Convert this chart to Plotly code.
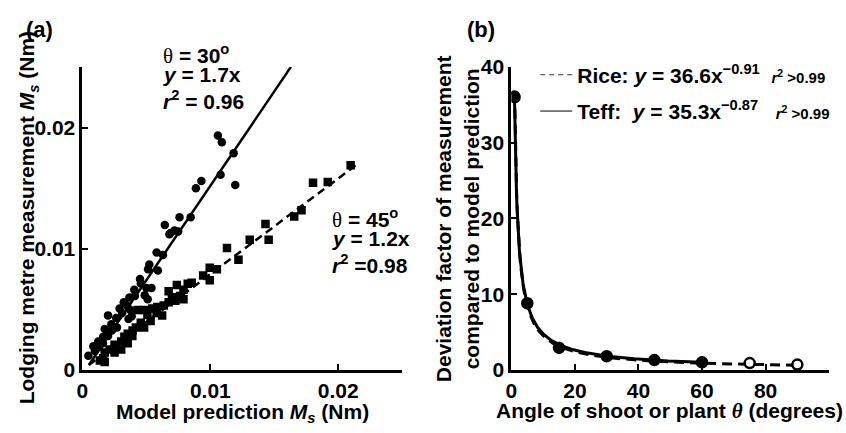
import numpy as np
import plotly.graph_objects as go

W, H = 846, 433
FONT = "Liberation Sans, Arial, sans-serif"

# ---------------- Panel (a) data ----------------
c30_x = [0.01059, 0.0109, 0.01182, 0.0108, 0.01195, 0.0093, 0.00887, 0.00846, 0.00759, 0.00644,
         0.00687, 0.00749, 0.0058, 0.0063, 0.00523, 0.00513, 0.0059, 0.00456, 0.0050, 0.0054,
         0.00405, 0.00487, 0.0051, 0.00367, 0.00323, 0.0029, 0.00374, 0.00385, 0.002, 0.00264,
         0.00226, 0.00174, 0.0023, 0.00162, 0.00123, 0.00085, 0.00046, 0.00097, 0.0035, 0.0031,
         0.0036, 0.0041, 0.0045, 0.0068, 0.0072, 0.0027, 0.0013, 0.0016, 0.0020]
c30_y = [0.01935, 0.01878, 0.01787, 0.0161, 0.01525, 0.01558, 0.01499, 0.0126, 0.0126, 0.01195,
         0.0113, 0.01143, 0.00969, 0.00948, 0.0087, 0.0083, 0.0082, 0.00714, 0.00675, 0.00675,
         0.00662, 0.00616, 0.00584, 0.00597, 0.00558, 0.00506, 0.00494, 0.00442, 0.0045, 0.00429,
         0.00377, 0.00338, 0.00325, 0.00273, 0.00234, 0.00195, 0.00117, 0.00156, 0.0053, 0.0047,
         0.0042, 0.0061, 0.0075, 0.0112, 0.0115, 0.0035, 0.0019, 0.0022, 0.0028]

s45_x = [0.02097, 0.01918, 0.01803, 0.01713, 0.01656, 0.01431, 0.01456, 0.01308, 0.0113, 0.0122,
         0.01051, 0.00995, 0.00995, 0.00944, 0.00854, 0.00823, 0.00738, 0.0079, 0.00674, 0.00764,
         0.0079, 0.00726, 0.00674, 0.00636, 0.00585, 0.00546, 0.00623, 0.00482, 0.00431, 0.00508,
         0.00533, 0.00456, 0.00482, 0.00418, 0.00392, 0.00354, 0.00328, 0.00303, 0.00251, 0.00213,
         0.00174, 0.00162, 0.00174, 0.00136, 0.00251, 0.00303, 0.00354, 0.0039, 0.0058, 0.0070]
s45_y = [0.01688, 0.0155, 0.01545, 0.01317, 0.01265, 0.01203, 0.01073, 0.01073, 0.01005, 0.00909,
         0.00831, 0.00844, 0.0074, 0.00779, 0.0072, 0.0071, 0.00701, 0.00662, 0.0065, 0.0061,
         0.00584, 0.00571, 0.00558, 0.00532, 0.0052, 0.00506, 0.00449, 0.00494, 0.00494, 0.00455,
         0.00403, 0.0039, 0.00351, 0.00351, 0.00325, 0.00299, 0.00273, 0.00234, 0.00208, 0.00169,
         0.00143, 0.00096, 0.00065, 0.00078, 0.00143, 0.00169, 0.00221, 0.0028, 0.0047, 0.0060]

fit30_x = [0.0005, 0.0163]
fit30_y = [0.0004, 0.0250]
fit45_x = [0.0005, 0.0214]
fit45_y = [0.0004, 0.0169]

a_ticks = [0, 0.01, 0.02]
a_ticklabels = ["0", "0.01", "0.02"]

# ---------------- Panel (b) data ----------------
angles_rice = [1, 5, 15, 30, 45, 60, 75, 90]
dev_rice = [36.0, 8.8, 2.9, 1.8, 1.3, 1.0, 0.9, 0.7]
angles_teff = [1, 5, 15, 30, 45, 60]
dev_teff = [36.2, 8.8, 3.0, 1.8, 1.3, 1.0]

rice_a, rice_b = 36.6, -0.91
teff_a, teff_b = 35.3, -0.87
rice_range = (1, 90)
teff_range = (1, 60)

b_xticks = [0, 20, 40, 60, 80, 100]
b_yticks = [0, 10, 20, 30, 40]


def px(x):
    return x / W


def py(y):
    return 1 - y / H


fig = go.Figure()

# panel a
fig.add_trace(go.Scatter(x=fit30_x, y=fit30_y, mode="lines", line=dict(color="black", width=2.5),
                         xaxis="x", yaxis="y", showlegend=False))
fig.add_trace(go.Scatter(x=fit45_x, y=fit45_y, mode="lines",
                         line=dict(color="black", width=2.5, dash="8px,5px"),
                         xaxis="x", yaxis="y", showlegend=False))
fig.add_trace(go.Scatter(x=c30_x, y=c30_y, mode="markers",
                         marker=dict(symbol="circle", size=8.5, color="black"),
                         xaxis="x", yaxis="y", showlegend=False))
fig.add_trace(go.Scatter(x=s45_x, y=s45_y, mode="markers",
                         marker=dict(symbol="square", size=8.5, color="black"),
                         xaxis="x", yaxis="y", showlegend=False))

# panel b curves
xr = np.linspace(rice_range[0], rice_range[1], 400)
xt = np.linspace(teff_range[0], teff_range[1], 400)
fig.add_trace(go.Scatter(x=xt, y=teff_a * xt ** teff_b, mode="lines",
                         line=dict(color="black", width=3), xaxis="x2", yaxis="y2", showlegend=False))
fig.add_trace(go.Scatter(x=xr, y=rice_a * xr ** rice_b, mode="lines",
                         line=dict(color="black", width=3, dash="10px,6px"),
                         xaxis="x2", yaxis="y2", showlegend=False))
fig.add_trace(go.Scatter(x=angles_rice, y=dev_rice, mode="markers",
                         marker=dict(symbol="circle", size=10, color="white",
                                     line=dict(color="black", width=2.5)),
                         xaxis="x2", yaxis="y2", showlegend=False))
fig.add_trace(go.Scatter(x=angles_teff, y=dev_teff, mode="markers",
                         marker=dict(symbol="circle", size=11, color="black"),
                         xaxis="x2", yaxis="y2", showlegend=False))

# legend-only traces
sm = "<span style='font-size:15px'><i>r</i><sup>2</sup> >0.99</span>"
fig.add_trace(go.Scatter(x=[None], y=[None], mode="lines",
                         line=dict(color="#333", width=1, dash="5px,4px"),
                         name="Rice: <i>y</i> = 36.6x<sup>\u22120.91</sup>\u00a0\u00a0" + sm,
                         legendgroup="r", xaxis="x2", yaxis="y2"))
fig.add_trace(go.Scatter(x=[None], y=[None], mode="lines",
                         line=dict(color="black", width=1),
                         name="Teff:\u00a0\u00a0<i>y</i> = 35.3x<sup>\u22120.87</sup>\u00a0\u00a0\u00a0" + sm,
                         legendgroup="t", xaxis="x2", yaxis="y2"))

ydom = [py(378), py(58)]
axis_common = dict(showline=True, linewidth=3, linecolor="black", ticks="inside",
                   ticklen=6, tickwidth=2, tickcolor="black", showgrid=False, zeroline=False,
                   tickfont=dict(family=FONT, size=21, color="black", weight="bold"))

fig.update_layout(
    width=W, height=H, autosize=False,
    margin=dict(l=0, r=0, t=0, b=0),
    plot_bgcolor="white", paper_bgcolor="white",
    font=dict(family=FONT, color="black"),
    xaxis=dict(domain=[px(77), px(399)], range=[0, 0.025], anchor="y",
               tickvals=a_ticks, ticktext=a_ticklabels, **axis_common),
    yaxis=dict(domain=ydom, range=[0, 0.025], anchor="x",
               tickvals=a_ticks, ticktext=a_ticklabels, **axis_common),
    xaxis2=dict(domain=[px(509), px(829)], range=[0, 100], anchor="y2",
                tickvals=b_xticks, **axis_common),
    yaxis2=dict(domain=ydom, range=[0, 40], anchor="x2",
                tickvals=b_yticks, **axis_common),
    showlegend=True,
    legend=dict(x=px(533), y=py(45), xanchor="left", yanchor="top",
                bgcolor="rgba(0,0,0,0)", tracegroupgap=6, itemwidth=32,
                font=dict(family=FONT, size=21, color="black", weight="bold")),
)

ann = []


def add_text(x, y, text, size=21, angle=0, xanchor="left"):
    ann.append(dict(x=px(x), y=py(y), xref="paper", yref="paper", text=text, showarrow=False,
                    xanchor=xanchor, yanchor="middle", textangle=angle,
                    font=dict(family=FONT, size=size, color="black", weight="bold")))


theta = "<span style='font-family:Liberation Serif, serif;font-weight:normal'>\u03b8</span>"
add_text(18, 18, "(a)", 22)
add_text(462, 18, "(b)", 22)
add_text(156, 45, theta + " = 30<sup>o</sup>")
add_text(156, 66, "<i>y</i> = 1.7x")
add_text(156, 93, "<i>r</i><sup>2</sup> = 0.96")
add_text(326, 218, theta + " = 45<sup>o</sup>")
add_text(326, 239, "<i>y</i> = 1.2x")
add_text(326, 266, "<i>r</i><sup>2</sup> =0.98")
# axis titles
add_text(238, 423, "Model prediction <i>M<sub>s</sub></i> (Nm)", 21, xanchor="center")
add_text(23, 217, "Lodging metre measurement <i>M<sub>s</sub></i> (Nm)", 21, angle=-90,
         xanchor="center")
add_text(668, 421, "Angle of shoot or plant " +
         "<span style='font-family:Liberation Serif, serif'><i>\u03b8</i></span> (degrees)",
         21, xanchor="center")
add_text(455, 218, "Deviation factor of measurement<br>compared to model prediction", 21,
         angle=-90, xanchor="center")
fig.update_layout(annotations=ann)

fig.write_html("out.html", post_script="document.body.style.margin='0';")
